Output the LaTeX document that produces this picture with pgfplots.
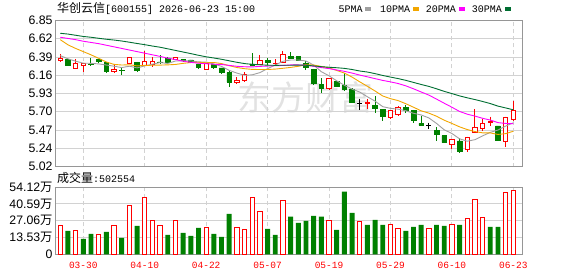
\documentclass[border=0pt]{standalone}
\usepackage{fontspec}
\setmainfont{Liberation Sans}
\newfontfamily\cjk{Noto Sans CJK SC}
\newfontfamily\mono{Liberation Mono}
\usepackage{pgfplots}
\usepackage{pgfplotstable}
\pgfplotsset{compat=1.18}

\definecolor{kred}{RGB}{255,0,0}
\definecolor{kgreen}{RGB}{0,128,0}
\definecolor{maA}{RGB}{160,160,160}
\definecolor{maB}{RGB}{242,166,0}
\definecolor{maC}{RGB}{255,0,255}
\definecolor{maD}{RGB}{0,110,50}
\definecolor{gridc}{RGB}{210,210,210}
\definecolor{framec}{RGB}{150,150,150}
\definecolor{wmark}{RGB}{226,226,226}

% candles: index open high low close
\pgfplotstableread{
i o h l c
0 6.346 6.426 6.334 6.368
2 6.246 6.364 6.238 6.314
3 6.280 6.310 6.208 6.305
7 6.213 6.300 6.188 6.238
9 6.309 6.385 6.305 6.380
11 6.284 6.464 6.280 6.339
12 6.296 6.389 6.271 6.339
15 6.359 6.385 6.355 6.380
19 6.242 6.320 6.240 6.314
23 6.075 6.138 6.054 6.092
24 6.104 6.201 6.079 6.176
26 6.296 6.418 6.290 6.346
28 6.305 6.364 6.296 6.314
29 6.326 6.468 6.314 6.418
35 5.995 6.126 5.975 6.117
40 5.812 5.870 5.745 5.820
43 5.632 5.720 5.620 5.716
44 5.675 5.780 5.654 5.762
51 5.302 5.365 5.243 5.361
53 5.236 5.394 5.202 5.381
54 5.444 5.737 5.437 5.512
55 5.494 5.612 5.461 5.562
56 5.569 5.645 5.528 5.578
58 5.331 5.645 5.261 5.628
59 5.603 5.847 5.590 5.720
}\upC

\pgfplotstableread{
i o h l c
1 6.364 6.368 6.280 6.284
4 6.300 6.376 6.280 6.295
5 6.364 6.370 6.314 6.334
6 6.321 6.334 6.188 6.213
8 6.225 6.263 6.170 6.220
10 6.326 6.330 6.208 6.230
13 6.330 6.414 6.300 6.325
14 6.380 6.390 6.320 6.326
16 6.362 6.362 6.326 6.357
17 6.355 6.360 6.320 6.330
18 6.305 6.310 6.238 6.263
20 6.296 6.300 6.238 6.263
21 6.255 6.260 6.180 6.205
22 6.196 6.226 6.013 6.079
25 6.305 6.440 6.290 6.293
27 6.346 6.376 6.296 6.326
30 6.405 6.455 6.370 6.371
31 6.405 6.405 6.345 6.346
32 6.314 6.342 6.230 6.263
33 6.242 6.245 6.038 6.063
34 6.046 6.126 5.945 5.995
36 6.088 6.090 6.030 6.030
37 6.038 6.188 5.970 5.988
38 5.988 6.000 5.820 5.820
41 5.787 5.904 5.695 5.753
42 5.737 5.740 5.587 5.644
45 5.762 5.790 5.687 5.720
46 5.720 5.730 5.570 5.594
47 5.562 5.653 5.530 5.537
49 5.469 5.510 5.344 5.419
50 5.406 5.410 5.315 5.319
52 5.340 5.374 5.193 5.206
57 5.528 5.530 5.340 5.353
}\downC

\pgfplotstableread{
i o h l c
39 5.812 5.870 5.728 5.812
48 5.532 5.570 5.486 5.532
}\flatC

\pgfplotstableread{
i ma5 ma10 ma20 ma30
0 6.410 6.610 6.640 6.690
1 6.370 6.545 6.625 6.680
2 6.340 6.500 6.610 6.665
3 6.315 6.460 6.590 6.650
4 6.313 6.420 6.575 6.640
5 6.306 6.376 6.560 6.627
6 6.292 6.330 6.540 6.615
7 6.277 6.300 6.520 6.605
8 6.260 6.292 6.500 6.593
9 6.277 6.295 6.480 6.578
10 6.256 6.281 6.460 6.562
11 6.281 6.287 6.440 6.547
12 6.302 6.289 6.420 6.530
13 6.323 6.291 6.400 6.515
14 6.312 6.294 6.378 6.495
15 6.342 6.299 6.360 6.475
16 6.345 6.313 6.340 6.455
17 6.344 6.323 6.325 6.435
18 6.331 6.327 6.315 6.414
19 6.329 6.320 6.308 6.395
20 6.305 6.324 6.302 6.380
21 6.275 6.310 6.299 6.364
22 6.225 6.284 6.287 6.345
23 6.191 6.261 6.276 6.326
24 6.163 6.246 6.270 6.310
25 6.169 6.237 6.268 6.300
26 6.197 6.236 6.275 6.295
27 6.247 6.236 6.279 6.290
28 6.291 6.241 6.284 6.288
29 6.339 6.251 6.286 6.289
30 6.355 6.262 6.293 6.289
31 6.355 6.276 6.293 6.291
32 6.342 6.295 6.289 6.289
33 6.292 6.292 6.276 6.281
34 6.208 6.274 6.260 6.271
35 6.157 6.256 6.247 6.264
36 6.094 6.224 6.230 6.258
37 6.039 6.191 6.213 6.250
38 5.990 6.141 6.191 6.236
39 5.953 6.081 6.166 6.217
40 5.894 6.025 6.144 6.204
41 5.839 5.966 6.121 6.184
42 5.770 5.904 6.099 6.161
43 5.749 5.870 6.081 6.141
44 5.739 5.846 6.060 6.122
45 5.719 5.807 6.031 6.100
46 5.687 5.763 5.994 6.074
47 5.666 5.718 5.954 6.048
48 5.629 5.689 5.915 6.024
49 5.560 5.650 5.865 5.994
50 5.480 5.600 5.813 5.962
51 5.434 5.560 5.763 5.934
52 5.367 5.517 5.710 5.905
53 5.337 5.483 5.676 5.881
54 5.356 5.458 5.652 5.859
55 5.404 5.442 5.624 5.835
56 5.448 5.441 5.602 5.809
57 5.477 5.422 5.570 5.777
58 5.527 5.432 5.560 5.754
59 5.568 5.462 5.556 5.731
}\maT

% volume in units of 10^4 (wan)
\pgfplotstableread{
i v
0 22.9
2 18.8
5 15.6
7 22.9
9 39.0
11 45.5
12 26.9
13 22.9
15 26.9
19 21.3
23 21.3
24 19.7
25 45.5
26 34.2
29 43.1
35 26.9
39 26.1
43 24.2
44 20.5
48 20.5
51 24.2
53 28.5
54 43.9
55 29.9
58 49.6
59 51.2
}\volUp

\pgfplotstableread{
i v
1 18.8
3 12.4
4 16.4
6 18.0
8 13.2
10 22.9
14 15.6
16 17.2
17 14.8
18 21.2
20 16.4
21 14.0
22 32.6
27 20.5
28 15.6
30 30.2
31 25.3
32 26.9
33 31.0
34 30.2
36 19.7
37 50.4
38 33.4
40 23.7
41 27.7
42 23.7
45 18.9
46 22.1
47 23.7
49 23.7
50 22.9
52 23.7
56 22.1
57 22.1
}\volDown

\pgfplotsset{
  kaxis/.style={scale only axis, width=467.3pt, height=146pt,
    xmin=-0.685, xmax=60.17, ymin=5.02, ymax=6.85,
    at={(0pt,0pt)}, anchor=south west},
  wick/.style={draw=none, mark=none, forget plot,
    error bars/.cd, y dir=minus, y explicit, error mark=none,
    error bar style={draw=#1, line width=1pt, solid}},
}

\begin{document}
\begin{tikzpicture}
\useasboundingbox (-55pt,-109.5pt) rectangle (523pt,166.5pt);

% watermark
\node[text=wmark, inner sep=0pt] at (250pt,69.5pt) {\cjk\fontsize{34}{34}\selectfont 东方财富};

% main price axis: frame, grid, wicks
\begin{axis}[kaxis,
  axis line style={draw=framec, line width=0.8pt},
  ytick={6.85,6.62125,6.3925,6.16375,5.935,5.70625,5.4775,5.24875,5.02},
  yticklabels={6.85,6.62,6.39,6.16,5.93,5.70,5.47,5.24,5.02},
  xtick={3,11,19,27,35,43,51,59}, xticklabels={},
  major tick length=0pt,
  ymajorgrids, xmajorgrids,
  major y grid style={draw=gridc, line width=0.9pt},
  major x grid style={draw=gridc, line width=0.8pt, dash pattern=on 4pt off 3pt},
  yticklabel style={font=\fontsize{12.3}{12}\selectfont, text=black, inner sep=0pt, xshift=-2.3pt},
]
\addplot[wick=kred] table[x=i, y=h, y error minus expr={\thisrow{h}-\thisrow{l}}] {\upC};
\addplot[wick=kgreen] table[x=i, y=h, y error minus expr={\thisrow{h}-\thisrow{l}}] {\downC};
\addplot[wick=black] table[x=i, y=h, y error minus expr={\thisrow{h}-\thisrow{l}}] {\flatC};
\addplot[draw=none, mark=none, forget plot,
  error bars/.cd, x dir=both, x fixed=0.33, error mark=none,
  error bar style={draw=black, line width=1pt, solid}]
  table[x=i, y=c] {\flatC};
\end{axis}

% red (up) bodies
\begin{axis}[kaxis, hide axis, ybar stacked, bar width=0.56]
\addplot[draw=none, fill=none] table[x=i, y=o] {\upC};
\addplot[draw=kred, fill=white, line width=1pt] table[x=i, y expr={\thisrow{c}-\thisrow{o}}] {\upC};
\end{axis}

% green (down) bodies
\begin{axis}[kaxis, hide axis, ybar stacked, bar width=0.6]
\addplot[draw=none, fill=none] table[x=i, y=c] {\downC};
\addplot[draw=kgreen, fill=kgreen, line width=0.6pt] table[x=i, y expr={\thisrow{o}-\thisrow{c}}] {\downC};
\end{axis}

% moving averages
\begin{axis}[kaxis, hide axis]
\addplot[draw=maA, line width=0.9pt, mark=none] table[x=i, y=ma5] {\maT};
\addplot[draw=maB, line width=0.9pt, mark=none] table[x=i, y=ma10] {\maT};
\addplot[draw=maC, line width=0.9pt, mark=none] table[x=i, y=ma20] {\maT};
\addplot[draw=maD, line width=0.9pt, mark=none] table[x=i, y=ma30] {\maT};
\end{axis}

% volume axis
\begin{axis}[scale only axis, width=467.3pt, height=67.3pt,
  xmin=-0.685, xmax=60.17, ymin=0, ymax=54.12,
  at={(0pt,-20.5pt)}, anchor=north west,
  axis line style={draw=framec, line width=0.8pt},
  ytick={0,13.53,27.06,40.59,54.12},
  yticklabels={0,{13.53{\cjk 万}},{27.06{\cjk 万}},{40.59{\cjk 万}},{54.12{\cjk 万}}},
  xtick={3,11,19,27,35,43,51,59},
  xticklabels={03-30,04-10,04-22,05-07,05-19,05-29,06-10,06-23},
  major tick length=0pt,
  ymajorgrids, xmajorgrids,
  major y grid style={draw=gridc, line width=0.9pt},
  major x grid style={draw=gridc, line width=0.8pt, dash pattern=on 4pt off 3pt},
  yticklabel style={font=\fontsize{12.3}{12}\selectfont, text=black, inner sep=0pt, xshift=-2.3pt},
  xticklabel style={font=\mono\fontsize{9.5}{10}\selectfont, text=kred, inner sep=0pt, anchor=north, yshift=-7.5pt},
]
\addplot[ybar, bar width=0.56, bar shift=0pt, draw=kred, fill=white, line width=1pt] table[x=i, y=v] {\volUp};
\addplot[ybar, bar width=0.64, bar shift=0pt, draw=none, fill=kgreen] table[x=i, y=v] {\volDown};
\end{axis}

% title
\node[anchor=west, inner sep=0pt] at (2pt,157.8pt) {{\cjk\fontsize{12}{12}\selectfont 华创云信}{\mono\fontsize{10}{10}\selectfont [600155] 2026-06-23 15:00}};
% legend
\node[anchor=west, inner sep=0pt] at (283.3pt,157.3pt) {\mono\fontsize{10}{10}\selectfont 5PMA};
\fill[maA] (310pt,155.8pt) rectangle (315.7pt,159.2pt);
\node[anchor=west, inner sep=0pt] at (325pt,157.3pt) {\mono\fontsize{10}{10}\selectfont 10PMA};
\fill[maB] (358.3pt,155.8pt) rectangle (363.7pt,159.2pt);
\node[anchor=west, inner sep=0pt] at (370.7pt,157.3pt) {\mono\fontsize{10}{10}\selectfont 20PMA};
\fill[maC] (404pt,155.8pt) rectangle (409.7pt,159.2pt);
\node[anchor=west, inner sep=0pt] at (416.7pt,157.3pt) {\mono\fontsize{10}{10}\selectfont 30PMA};
\fill[maD] (450pt,155.8pt) rectangle (455.7pt,159.2pt);
% volume caption
\node[anchor=west, inner sep=0pt] at (2pt,-11.2pt) {{\cjk\fontsize{12}{12}\selectfont 成交量}{\mono\fontsize{10}{10}\selectfont :502554}};
\end{tikzpicture}
\end{document}
